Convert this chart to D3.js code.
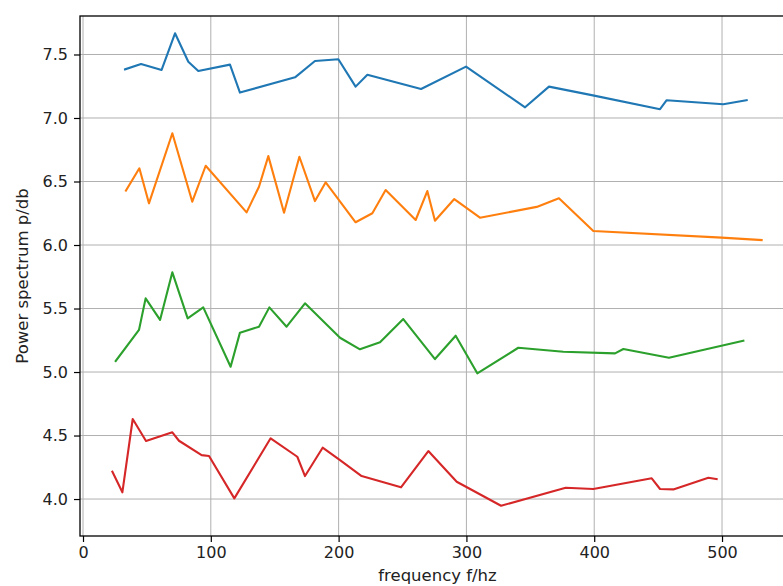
<!DOCTYPE html>
<html>
<head>
<meta charset="utf-8">
<script src="https://cdn.jsdelivr.net/npm/d3@7"></script>
<style>
  body { margin: 0; background: #fff; }
  svg { display: block; font-family: "DejaVu Sans", sans-serif; }
  .grid line { stroke: #b0b0b0; stroke-width: 1; }
  .tick text { font-size: 16px; fill: #222; }
</style>
</head>
<body>
<svg width="783" height="586"></svg>
<script>
// series: [frequency, power]
var blue = [[32.9, 7.383], [45.4, 7.425], [61.5, 7.378], [72, 7.667], [82.4, 7.443], [90.2, 7.37],
  [115, 7.42], [122.8, 7.2], [165.9, 7.32], [181.5, 7.449], [199.8, 7.462], [213.3, 7.247],
  [222.5, 7.34], [264.5, 7.228], [299.7, 7.404], [345.9, 7.084], [364.6, 7.247], [398, 7.18],
  [451.5, 7.069], [456.7, 7.14], [501, 7.108], [519.3, 7.14]];
var orange = [[33.6, 6.428], [44.1, 6.604], [51.6, 6.328], [69.9, 6.88], [85.5, 6.341], [96, 6.624],
  [128, 6.257], [137.7, 6.459], [145, 6.70], [157.3, 6.254], [169.3, 6.695], [181.5, 6.346],
  [189.9, 6.494], [213.3, 6.179], [226.4, 6.25], [236.8, 6.433], [260.3, 6.197], [269.4, 6.425],
  [275.4, 6.191], [290.5, 6.362], [310.6, 6.215], [355, 6.30], [372.4, 6.368], [399.3, 6.11],
  [499.7, 6.058], [531, 6.039]];
var green = [[25.6, 5.087], [43.8, 5.331], [49, 5.58], [60.3, 5.41], [69.9, 5.785], [81.9, 5.423],
  [94.1, 5.509], [115.5, 5.042], [122.8, 5.31], [137.7, 5.357], [145.8, 5.509], [159.3, 5.357],
  [173.7, 5.541], [201.1, 5.27], [216.7, 5.179], [232.4, 5.234], [250.6, 5.417], [275.4, 5.102],
  [291.6, 5.286], [308.5, 4.99], [340.6, 5.191], [375.8, 5.16], [416.3, 5.147], [422.8, 5.181],
  [458.5, 5.113], [516.7, 5.246]];
var red = [[23, 4.215], [30.8, 4.053], [38.9, 4.63], [49.3, 4.457], [69.9, 4.525], [75.1, 4.459],
  [92.8, 4.346], [98.6, 4.339], [118.4, 4.005], [146.8, 4.478], [167.7, 4.333], [173.7, 4.181],
  [187.5, 4.404], [201.1, 4.307], [218, 4.181], [248.8, 4.092], [270.2, 4.378], [292.4, 4.136],
  [327.1, 3.947], [377.7, 4.089], [399.3, 4.079], [445, 4.163], [451.5, 4.079], [461.9, 4.076],
  [489.3, 4.168], [495.8, 4.157]];
var seriesList = [blue, orange, green, red];
var colors = ['#1f77b4', '#ff7f0e', '#2ca02c', '#d62728'];
var xTicks = [0, 100, 200, 300, 400, 500];
var yTicks = [4.0, 4.5, 5.0, 5.5, 6.0, 6.5, 7.0, 7.5];

var margin = { top: 16, left: 80 };
var width = 715, height = 520;
var svg = d3.select('svg');
var g = svg.append('g').attr('transform', 'translate(' + margin.left + ',' + margin.top + ')');

var xScale = d3.scaleLinear().domain([-2.35, 557.1]).range([0, width]);
var yScale = d3.scaleLinear().domain([3.709, 7.803]).range([height, 0]);

// grid
g.append('g').attr('class', 'grid')
  .selectAll('line').data(xTicks).enter().append('line')
  .attr('x1', function (d) { return xScale(d); }).attr('x2', function (d) { return xScale(d); })
  .attr('y1', 0).attr('y2', height);
g.append('g').attr('class', 'grid')
  .selectAll('line').data(yTicks).enter().append('line')
  .attr('y1', function (d) { return yScale(d); }).attr('y2', function (d) { return yScale(d); })
  .attr('x1', 0).attr('x2', width);

// lines
var line = d3.line()
  .x(function (d) { return xScale(d[0]); })
  .y(function (d) { return yScale(d[1]); });
seriesList.forEach(function (s, i) {
  g.append('path').datum(s)
    .attr('d', line)
    .attr('fill', 'none')
    .attr('stroke', colors[i])
    .attr('stroke-width', 2.1)
    .attr('stroke-linejoin', 'round')
    .attr('stroke-linecap', 'square');
});

// axes
var xAxis = g.append('g').attr('transform', 'translate(0,' + height + ')')
  .call(d3.axisBottom(xScale).tickValues(xTicks).tickSize(6).tickPadding(5).tickFormat(d3.format('d')));
var yAxis = g.append('g')
  .call(d3.axisLeft(yScale).tickValues(yTicks).tickSize(6).tickPadding(6).tickFormat(d3.format('.1f')));
[xAxis, yAxis].forEach(function (a) {
  a.select('.domain').remove();
  a.selectAll('.tick line').attr('stroke', '#000').attr('stroke-width', 1.2);
  a.selectAll('.tick text').attr('font-family', '"DejaVu Sans", sans-serif').attr('font-size', 16);
});

// frame
g.append('rect').attr('x', 0).attr('y', 0).attr('width', width).attr('height', height)
  .attr('fill', 'none').attr('stroke', '#000').attr('stroke-width', 1.3);

// labels
svg.append('text')
  .attr('x', margin.left + width / 2).attr('y', 581)
  .attr('text-anchor', 'middle').attr('font-size', 16.5).attr('fill', '#222')
  .text('frequency f/hz');
svg.append('text')
  .attr('transform', 'translate(28,' + (margin.top + height / 2) + ') rotate(-90)')
  .attr('text-anchor', 'middle').attr('font-size', 16.5).attr('fill', '#222')
  .text('Power spectrum p/db');
</script>
</body>
</html>
